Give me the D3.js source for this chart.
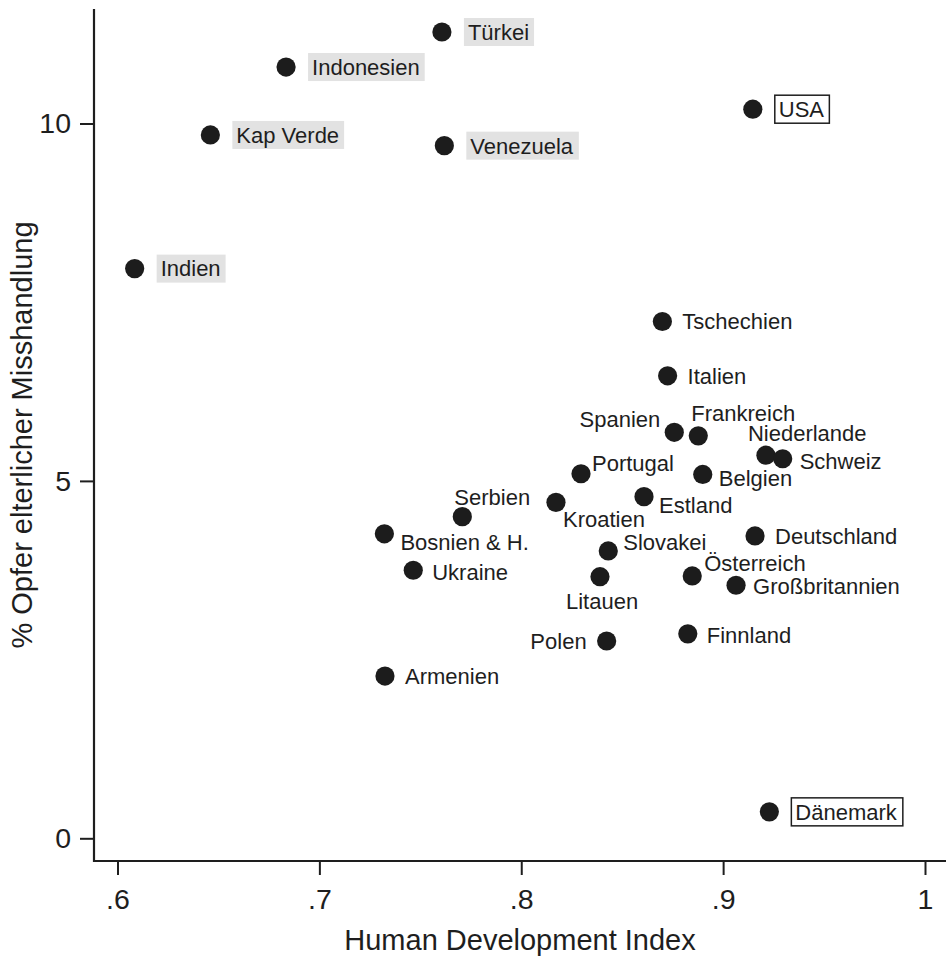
<!DOCTYPE html>
<html>
<head>
<meta charset="utf-8">
<script src="https://cdn.jsdelivr.net/npm/d3@7"></script>
<style>
  html, body { margin: 0; padding: 0; background: #fff; }
  svg { display: block; }
  text { font-family: "Liberation Sans", Arial, Helvetica, sans-serif; fill: #1e1e1e; }
</style>
</head>
<body>
<svg id="chart" width="948" height="957"></svg>
<script>
// ---- Data ----
const countries = ["Türkei","Indonesien","Kap Verde","Venezuela","USA","Indien","Tschechien","Italien",
  "Spanien","Frankreich","Niederlande","Schweiz","Belgien","Portugal","Kroatien","Estland","Serbien",
  "Bosnien & H.","Deutschland","Slovakei","Ukraine","Litauen","Österreich","Großbritannien","Finnland",
  "Polen","Armenien","Dänemark"];
const hdi = [0.7607,0.6835,0.6460,0.7619,0.9147,0.6085,0.8699,0.8725,
  0.8758,0.8877,0.9212,0.9295,0.8899,0.8296,0.8172,0.8608,0.7708,
  0.7322,0.9158,0.8431,0.7465,0.8390,0.8847,0.9064,0.8825,
  0.8423,0.7325,0.9229];
const abuse = [11.28,10.79,9.84,9.69,10.20,7.97,7.23,6.47,
  5.68,5.63,5.36,5.31,5.09,5.10,4.70,4.78,4.50,
  4.26,4.23,4.02,3.75,3.66,3.67,3.54,2.86,
  2.76,2.27,0.37];
// label highlight group: 0 = none, 1 = grey box, 2 = framed box
const highlight = [1,1,1,1,2,1,0,0, 0,0,0,0,0,0,0,0,0, 0,0,0,0,0,0,0,0, 0,0,2];
const xTicks = [0.6,0.7,0.8,0.9,1];
const xTickLabels = [".6",".7",".8",".9","1"];
const yTicks = [0,5,10];
const yTickLabels = ["0","5","10"];
const xTitle = "Human Development Index";
const yTitle = "% Opfer elterlicher Misshandlung";

// ---- Label placement (layout, not data) ----
const place = {
  "Spanien":      {a:"end",   dx:-14, dy:-13},
  "Frankreich":   {a:"start", dx:-7,  dy:-22.5},
  "Niederlande":  {a:"start", dx:-18, dy:-22.5},
  "Schweiz":      {a:"start", dx:17,  dy:2},
  "Belgien":      {a:"start", dx:16,  dy:4},
  "Estland":      {a:"start", dx:15,  dy:8.5},
  "Österreich":   {a:"start", dx:12,  dy:-12.5},
  "Großbritannien":{a:"start",dx:17,  dy:1},
  "Slovakei":     {a:"start", dx:15,  dy:-9},
  "Portugal":     {a:"start", dx:11,  dy:-10.5},
  "Kroatien":     {a:"start", dx:7,   dy:17},
  "Serbien":      {a:"start", dx:-8,  dy:-20},
  "Bosnien & H.": {a:"start", dx:16,  dy:8.5},
  "Litauen":      {a:"start", dx:-34, dy:24},
  "Polen":        {a:"end",   dx:-20, dy:0},
  "Ukraine":      {a:"start", dx:19,  dy:1.5},
  "Finnland":     {a:"start", dx:19,  dy:1}
};
const defaultPlace = {a:"start", dx:20, dy:0};
const boxPlace = {a:"start", dx:26, dy:0};

// ---- Layout ----
const svg = d3.select("#chart");
const x = d3.scaleLinear().domain([0.6, 1]).range([117.5, 925]);
const y = d3.scaleLinear().domain([0, 10]).range([838.3, 123.5]);
const plotLeft = 94, plotRight = 946, plotTop = 9, plotBottom = 861;
const ink = "#1e1e1e";

// Axes
const xAxis = d3.axisBottom(x).tickValues(xTicks)
  .tickFormat((d,i) => xTickLabels[i]).tickSize(14).tickPadding(14).tickSizeOuter(0);
const gx = svg.append("g").attr("transform", `translate(0,${plotBottom})`).call(xAxis);
gx.select(".domain").remove();
gx.selectAll(".tick line").attr("stroke", ink).attr("stroke-width", 2);
gx.selectAll(".tick text").attr("font-size", 28.5).attr("fill", ink)
  .attr("font-family", '"Liberation Sans", Arial, sans-serif');

const yAxis = d3.axisLeft(y).tickValues(yTicks)
  .tickFormat((d,i) => yTickLabels[i]).tickSize(14).tickPadding(9).tickSizeOuter(0);
const gy = svg.append("g").attr("transform", `translate(${plotLeft},0)`).call(yAxis);
gy.select(".domain").remove();
gy.selectAll(".tick line").attr("stroke", ink).attr("stroke-width", 2);
gy.selectAll(".tick text").attr("font-size", 28.5).attr("fill", ink)
  .attr("font-family", '"Liberation Sans", Arial, sans-serif');

// Axis lines
svg.append("line").attr("x1", plotLeft).attr("x2", plotLeft).attr("y1", plotTop).attr("y2", plotBottom + 1)
  .attr("stroke", ink).attr("stroke-width", 2.2);
svg.append("line").attr("x1", plotLeft - 1).attr("x2", plotRight).attr("y1", plotBottom).attr("y2", plotBottom)
  .attr("stroke", ink).attr("stroke-width", 2.2);

// Titles
svg.append("text").attr("x", (plotLeft + plotRight) / 2).attr("y", 950)
  .attr("text-anchor", "middle").attr("font-size", 29).text(xTitle);
svg.append("text").attr("transform", `translate(32,${(plotTop + plotBottom) / 2}) rotate(-90)`)
  .attr("text-anchor", "middle").attr("font-size", 29).text(yTitle);

// Data
const pts = countries.map((c, i) => ({name: c, hdi: hdi[i], v: abuse[i], hl: highlight[i]}));

// Points
svg.append("g").selectAll("circle").data(pts).join("circle")
  .attr("cx", d => x(d.hdi)).attr("cy", d => y(d.v)).attr("r", 9.6)
  .attr("fill", "#1c1c1c");

// Labels
const fs = 22;
const lg = svg.append("g");
pts.forEach(d => {
  const p = d.hl ? boxPlace : (place[d.name] || defaultPlace);
  const cx = x(d.hdi), cy = y(d.v);
  const g = lg.append("g");
  const t = g.append("text")
    .attr("x", cx + p.dx).attr("y", cy + p.dy + fs * 0.358)
    .attr("text-anchor", p.a).attr("font-size", fs).text(d.name);
  if (d.hl) {
    const bb = t.node().getBBox();
    const padL = 4, padR = 5, h = 28;
    g.insert("rect", "text")
      .attr("x", bb.x - padL).attr("y", cy - h / 2)
      .attr("width", bb.width + padL + padR).attr("height", h)
      .attr("fill", d.hl === 1 ? "#e2e2e2" : "#ffffff")
      .attr("stroke", d.hl === 2 ? ink : "none")
      .attr("stroke-width", d.hl === 2 ? 1.5 : 0);
  }
});
</script>
</body>
</html>
